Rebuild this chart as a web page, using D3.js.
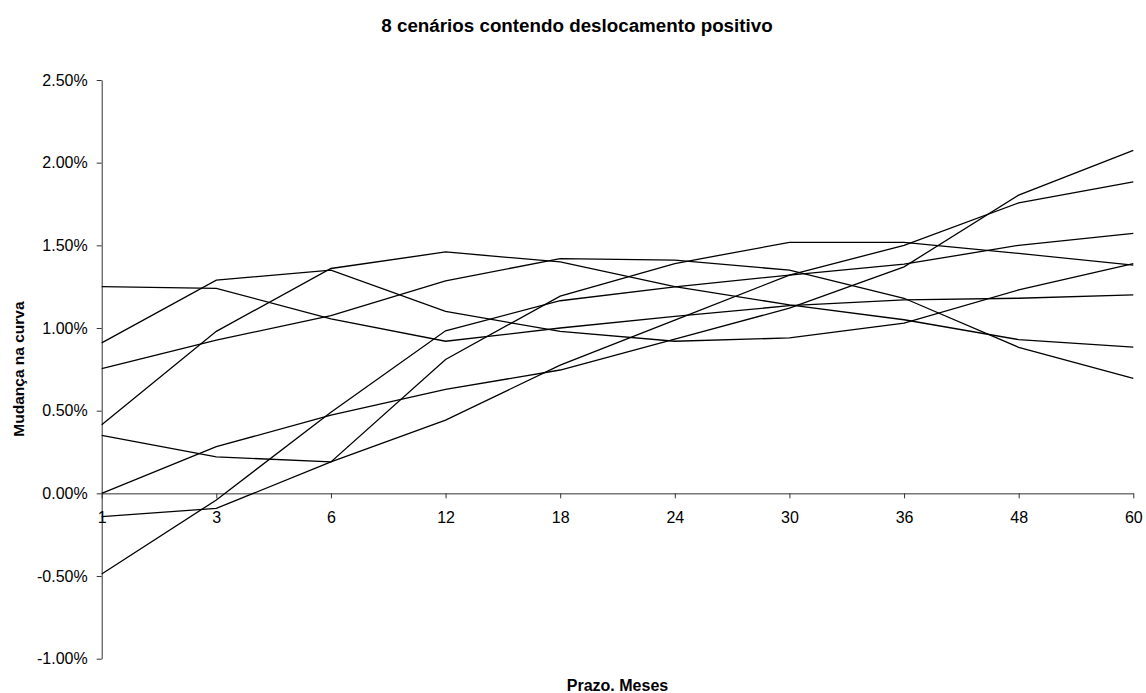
<!DOCTYPE html>
<html>
<head>
<meta charset="utf-8">
<script src="https://cdn.jsdelivr.net/npm/d3@7"></script>
<style>
  html, body { margin: 0; padding: 0; background: #fff; }
  svg { display: block; }
  text { font-family: "Liberation Sans", Arial, sans-serif; fill: #000; }
</style>
</head>
<body>
<svg id="chart" width="1146" height="693"></svg>
<script>
// ---- data (values in %) ----
const categories = ["1", "3", "6", "12", "18", "24", "30", "36", "48", "60"];
const scenario1 = [0.91, 1.29, 1.35, 1.10, 0.98, 0.92, 0.94, 1.03, 1.23, 1.39];
const scenario2 = [1.25, 1.24, 1.055, 0.92, 1.00, 1.07, 1.135, 1.17, 1.18, 1.20];
const scenario3 = [0.415, 0.98, 1.36, 1.46, 1.40, 1.25, 1.14, 1.05, 0.93, 0.885];
const scenario4 = [0.755, 0.927, 1.075, 1.285, 1.42, 1.41, 1.35, 1.18, 0.883, 0.695];
const scenario5 = [-0.488, -0.04, 0.49, 0.983, 1.165, 1.249, 1.32, 1.386, 1.50, 1.572];
const scenario6 = [0.351, 0.221, 0.19, 0.81, 1.193, 1.39, 1.518, 1.518, 1.451, 1.38];
const scenario7 = [-0.141, -0.091, 0.19, 0.443, 0.776, 1.048, 1.32, 1.50, 1.757, 1.884];
const scenario8 = [0.0, 0.282, 0.473, 0.629, 0.746, 0.933, 1.12, 1.37, 1.804, 2.075];
const yTickValues = [-1.0, -0.5, 0.0, 0.5, 1.0, 1.5, 2.0, 2.5];

const titleText = "8 cenários contendo deslocamento positivo";
const xTitle = "Prazo. Meses";
const yTitle = "Mudança na curva";

const allSeries = [scenario1, scenario2, scenario3, scenario4,
                   scenario5, scenario6, scenario7, scenario8];

// ---- layout ----
const svg = d3.select("#chart");
const plotLeft = 101.7, plotRight = 1133.3, plotTop = 80, plotBottom = 658.7;

const x = d3.scalePoint().domain(categories).range([plotLeft, plotRight]);
const y = d3.scaleLinear().domain([-1.0, 2.5]).range([plotBottom, plotTop]);
const fmt = v => v.toFixed(2) + "%";

// Y axis
const yAxis = svg.append("g")
  .attr("transform", `translate(${plotLeft},0)`)
  .call(d3.axisLeft(y).tickValues(yTickValues).tickFormat(fmt)
        .tickSize(5).tickSizeOuter(0).tickPadding(9));
yAxis.selectAll("text").style("font-size", "16px");
yAxis.select(".domain").attr("stroke", "#333");
yAxis.selectAll(".tick line").attr("stroke", "#333");

// X axis at zero
const xAxis = svg.append("g")
  .attr("transform", `translate(0,${y(0)})`)
  .call(d3.axisBottom(x).tickSize(5).tickSizeOuter(0).tickPadding(13));
xAxis.selectAll("text").style("font-size", "16px");
xAxis.select(".domain").attr("stroke", "#333");
xAxis.selectAll(".tick line").attr("stroke", "#333");

// Lines
const line = d3.line()
  .x((d, i) => x(categories[i]))
  .y(d => y(d));

svg.append("g").selectAll("path.series")
  .data(allSeries)
  .join("path")
  .attr("class", "series")
  .attr("d", line)
  .attr("fill", "none")
  .attr("stroke", "#000")
  .attr("stroke-width", 1.3);

// Titles
svg.append("text")
  .attr("x", 577).attr("y", 31.5)
  .attr("text-anchor", "middle")
  .style("font-size", "18.8px").style("font-weight", "bold")
  .text(titleText);

svg.append("text")
  .attr("x", (plotLeft + plotRight) / 2).attr("y", 691)
  .attr("text-anchor", "middle")
  .style("font-size", "16px").style("font-weight", "bold")
  .text(xTitle);

svg.append("text")
  .attr("transform", "translate(24,369) rotate(-90)")
  .attr("text-anchor", "middle")
  .style("font-size", "15.5px").style("font-weight", "bold")
  .text(yTitle);
</script>
</body>
</html>
